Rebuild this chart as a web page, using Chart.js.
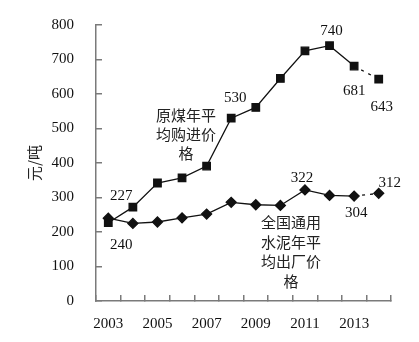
<!DOCTYPE html>
<html lang="zh">
<head>
<meta charset="UTF-8">
<title>原煤与水泥价格</title>
<style>
  body { margin: 0; background: #fff; }
  #wrap { width: 419px; height: 342px; }
</style>
</head>
<body>
<div id="wrap">
  <canvas id="priceChart" width="419" height="342"></canvas>
</div>

<script src="https://cdn.jsdelivr.net/npm/chart.js"></script>
<script>
// yearly averages, yuan per tonne
const years = ['2003', '2004', '2005', '2006', '2007', '2008', '2009', '2010', '2011', '2012', '2013', '2014'];
const coalPrice = [227, 272, 342, 357, 391, 530, 561, 645, 725, 740, 681, 643];
const cementPrice = [240, 225, 229, 241, 252, 286, 279, 277, 322, 306, 304, 312];
const yTicks = [0, 100, 200, 300, 400, 500, 600, 700, 800];

// which points get a value label, and where the text sits relative to the point
const coalLabels = [
  { i: 0, dx: 13, dy: -27 },
  { i: 5, dx: 4, dy: -20 },
  { i: 9, dx: 2, dy: -15 },
  { i: 10, dx: 0, dy: 25 },
  { i: 11, dx: 3, dy: 28 }
];
const cementLabels = [
  { i: 0, dx: 13, dy: 27 },
  { i: 8, dx: -3, dy: -12 },
  { i: 10, dx: 2, dy: 17 },
  { i: 11, dx: 11, dy: -10 }
];

const serif = '"Liberation Serif", "DejaVu Serif", serif';
const cjk = '"Noto Sans CJK SC", sans-serif';
const axisGray = '#7a7a7a';

// last segment is an estimate -> dotted
const dotted = ctx => ctx.p0DataIndex === years.length - 2 ? [3, 5] : undefined;

const valueLabels = {
  id: 'valueLabels',
  afterDatasetsDraw(chart) {
    const c = chart.ctx;
    c.save();
    c.font = '15px ' + serif;
    c.fillStyle = '#111';
    c.textAlign = 'center';
    c.textBaseline = 'middle';
    [[0, coalLabels], [1, cementLabels]].forEach(([ds, list]) => {
      const meta = chart.getDatasetMeta(ds);
      const values = chart.data.datasets[ds].data;
      list.forEach(l => {
        const pt = meta.data[l.i];
        c.fillText(String(values[l.i]), pt.x + l.dx, pt.y + l.dy);
      });
    });

    // series names
    c.font = '15px ' + cjk;
    c.fillStyle = '#222';
    ['原煤年平', '均购进价', '格'].forEach((t, k) => c.fillText(t, 186, 115 + k * 19));
    ['全国通用', '水泥年平', '均出厂价', '格'].forEach((t, k) => c.fillText(t, 291, 222 + k * 19.8));
    c.restore();
  }
};

new Chart(document.getElementById('priceChart'), {
  type: 'line',
  data: {
    labels: years,
    datasets: [
      {
        label: '原煤年平均购进价格',
        data: coalPrice,
        borderColor: '#111',
        backgroundColor: '#111',
        borderWidth: 1.3,
        pointStyle: 'rect',
        pointRadius: 5.3,
        pointHoverRadius: 5.3,
        tension: 0,
        segment: { borderDash: dotted }
      },
      {
        label: '全国通用水泥年平均出厂价格',
        data: cementPrice,
        borderColor: '#111',
        backgroundColor: '#111',
        borderWidth: 1.3,
        pointStyle: 'rectRot',
        pointRadius: 5,
        pointHoverRadius: 5,
        tension: 0,
        segment: { borderDash: dotted }
      }
    ]
  },
  options: {
    responsive: false,
    animation: false,
    events: [],
    layout: { padding: { top: 25, right: 28, left: 0, bottom: 0 } },
    plugins: { legend: { display: false }, tooltip: { enabled: false } },
    scales: {
      x: {
        type: 'category',
        offset: true,
        grid: {
          offset: true,
          drawOnChartArea: false,
          drawTicks: true,
          tickLength: -6,
          color: axisGray,
          lineWidth: 1.5
        },
        border: { color: axisGray, width: 1.5 },
        ticks: {
          autoSkip: false,
          maxRotation: 0,
          padding: 20,
          color: '#111',
          font: { family: serif, size: 15 },
          callback: (v, i) => (i % 2 === 0 ? years[i] : '')
        },
        afterFit: s => { s.height = 41; }
      },
      y: {
        min: 0,
        max: 800,
        afterBuildTicks: s => { s.ticks = yTicks.map(v => ({ value: v })); },
        grid: {
          drawOnChartArea: false,
          drawTicks: true,
          tickLength: -6,
          color: axisGray,
          lineWidth: 1.5
        },
        border: { color: axisGray, width: 1.5 },
        ticks: {
          padding: 28,
          color: '#111',
          font: { family: serif, size: 15 }
        },
        title: {
          display: true,
          text: '元/吨',
          color: '#222',
          font: { family: cjk, size: 15 },
          padding: { top: 25, bottom: 0 }
        },
        afterFit: s => {
          s.width = 96;
          s.paddingTop = 0;
          s.paddingBottom = 0;
        }
      }
    }
  },
  plugins: [valueLabels]
});
</script>
</body>
</html>
